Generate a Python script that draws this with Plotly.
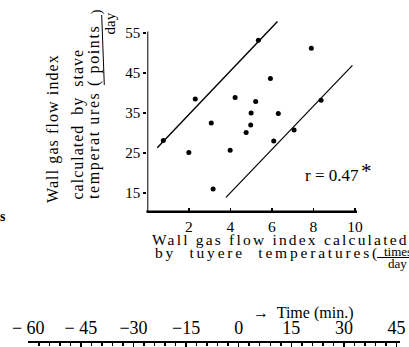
import plotly.graph_objects as go

# ---------------- data ----------------
tuyere_index = [0.77, 2.31, 2.0, 3.08, 3.17, 3.99, 4.23, 4.76, 4.98, 5.0, 5.22, 5.35,
                5.93, 6.09, 6.31, 7.07, 7.9, 8.37]
stave_index = [28.1, 38.5, 25.1, 32.5, 16.0, 25.7, 38.9, 30.1, 32.0, 35.0, 37.9, 53.2,
               43.6, 28.0, 34.9, 30.75, 51.2, 38.2]

upper_bound_x = [0.48, 6.27]
upper_bound_y = [26.3, 57.9]
lower_bound_x = [3.79, 9.88]
lower_bound_y = [13.9, 46.9]

x_ticks = [2, 4, 6, 8, 10]
y_ticks = [15, 25, 35, 45, 55]
time_ticks = [-60, -45, -30, -15, 0, 15, 30, 45]
time_labels = ["\u2212 60", "\u2212 45", "\u221230", "\u221215", "0", "15", "30", "45"]

W, H = 409, 347
FONT = "Liberation Serif"
X_MIN, X_MAX = 0, 10.1
Y_MIN, Y_MAX = 10.5, 59
PLOT_L, PLOT_R, PLOT_B, PLOT_T = 147.3, 357, 211, 17


def px(x):
    return x / W


def py(y):
    return 1 - y / H


fig = go.Figure()

fig.add_trace(go.Scatter(x=upper_bound_x, y=upper_bound_y, mode="lines",
                         line=dict(color="black", width=1.4), showlegend=False,
                         hoverinfo="skip"))
fig.add_trace(go.Scatter(x=lower_bound_x, y=lower_bound_y, mode="lines",
                         line=dict(color="black", width=1.2), showlegend=False,
                         hoverinfo="skip"))
fig.add_trace(go.Scatter(x=tuyere_index, y=stave_index, mode="markers",
                         marker=dict(color="black", size=5), showlegend=False))

# bottom time axis (empty subplot)
fig.add_trace(go.Scatter(x=[-60, 46], y=[0, 0], xaxis="x2", yaxis="y2",
                         mode="markers", marker=dict(opacity=0),
                         showlegend=False, hoverinfo="skip"))

fig.update_layout(
    width=W, height=H,
    margin=dict(l=0, r=0, t=0, b=0, pad=0),
    paper_bgcolor="white", plot_bgcolor="rgba(0,0,0,0)",
    font=dict(family=FONT, color="black"),
    showlegend=False,
    xaxis=dict(
        domain=[px(PLOT_L), px(PLOT_R)], range=[X_MIN, X_MAX],
        showline=True, linecolor="black", linewidth=2,
        showgrid=False, zeroline=False, automargin=False,
        tickvals=x_ticks, ticks="inside", ticklen=3, tickcolor="black",
        tickwidth=1.5,
        tickfont=dict(size=15.5, family=FONT),
        anchor="y",
    ),
    yaxis=dict(
        domain=[py(PLOT_B), py(PLOT_T)], range=[Y_MIN, Y_MAX],
        showline=False, showgrid=False, zeroline=False, automargin=False,
        tickvals=y_ticks, ticks="outside", ticklen=3, tickcolor="black",
        tickwidth=1.5,
        tickfont=dict(size=15, family=FONT),
        anchor="x",
    ),
    xaxis2=dict(
        domain=[px(28.3), px(400)], range=[-60, 46],
        side="top", anchor="y2", automargin=False,
        showline=True, linecolor="black", linewidth=2,
        showgrid=False, zeroline=False,
        tickvals=time_ticks, ticktext=time_labels,
        ticks="inside", ticklen=6, tickwidth=1.5, tickcolor="black",
        minor=dict(dtick=3, tick0=0, ticks="inside", ticklen=3,
                   tickcolor="black", showgrid=False),
        tickfont=dict(size=18, family=FONT),
    ),
    yaxis2=dict(domain=[0, py(342.7)], range=[-1, 0], visible=False,
                anchor="x2", automargin=False),
)

# axis lines of the scatter panel (y line stops near the top tick)
fig.add_shape(type="line", xref="x", yref="y", x0=X_MIN, x1=X_MIN,
              y0=Y_MIN, y1=55.4, line=dict(color="black", width=2))
fig.add_shape(type="line", xref="paper", yref="paper",
              x0=px(PLOT_L - 1), x1=px(PLOT_R), y0=py(PLOT_B + 0.5),
              y1=py(PLOT_B + 0.5), line=dict(color="black", width=2))

ann = []


def txt(text, x, y, size=16, xanchor="center", yanchor="middle", angle=0,
        spacing=0):
    if spacing:
        text = f'<span style="letter-spacing:{spacing}px">{text}</span>'
    ann.append(dict(text=text, x=px(x), y=py(y), xref="paper", yref="paper",
                    xanchor=xanchor, yanchor=yanchor, showarrow=False,
                    textangle=angle, borderpad=0, borderwidth=0,
                    font=dict(size=size, family=FONT, color="black")))


# x-axis title
txt("Wall gas flow index calculated", 151.7, 239.5, size=15.5,
    xanchor="left", spacing=2.2)
txt("by  tuyere  temperatures(", 155, 253, size=15.5, xanchor="left",
    spacing=2.8)
txt("times", 383.5, 251, size=13, xanchor="left")
txt("day", 388, 263.5, size=13, xanchor="left")
fig.add_shape(type="line", xref="paper", yref="paper", x0=px(377), x1=px(409),
              y0=py(257.5), y1=py(257.5), line=dict(color="black", width=1))

# y-axis title (rotated)
txt("Wall gas flow index", 53, 128, size=16, angle=-90, spacing=1.1)
txt("calculated  by  stave", 78, 124.5, size=16, angle=-90, spacing=1.0)
txt("temperat ures ( points", 93.5, 112.5, size=16, angle=-90, spacing=1.6)
txt(")", 96, 12.5, size=15, angle=-90)
txt("day", 110, 23.5, size=15, angle=-90)
fig.add_shape(type="line", xref="paper", yref="paper", x0=px(101.7),
              x1=px(104.3), y0=py(15), y1=py(85),
              line=dict(color="black", width=1))

# correlation annotation
txt("r = 0.47", 305, 175.5, size=17, xanchor="left")
txt("*", 366, 171, size=21)

# time label
txt("\u2192  Time (min.)", 253, 313, size=16, xanchor="left")

# stray fragment at left edge
txt("<b>s</b>", 0, 216, size=14, xanchor="left")

fig.update_layout(annotations=ann)

fig.write_html("out.html",
               config={"displayModeBar": False, "staticPlot": True},
               post_script="document.body.style.margin='0';"
                           "document.body.style.overflow='hidden';")
